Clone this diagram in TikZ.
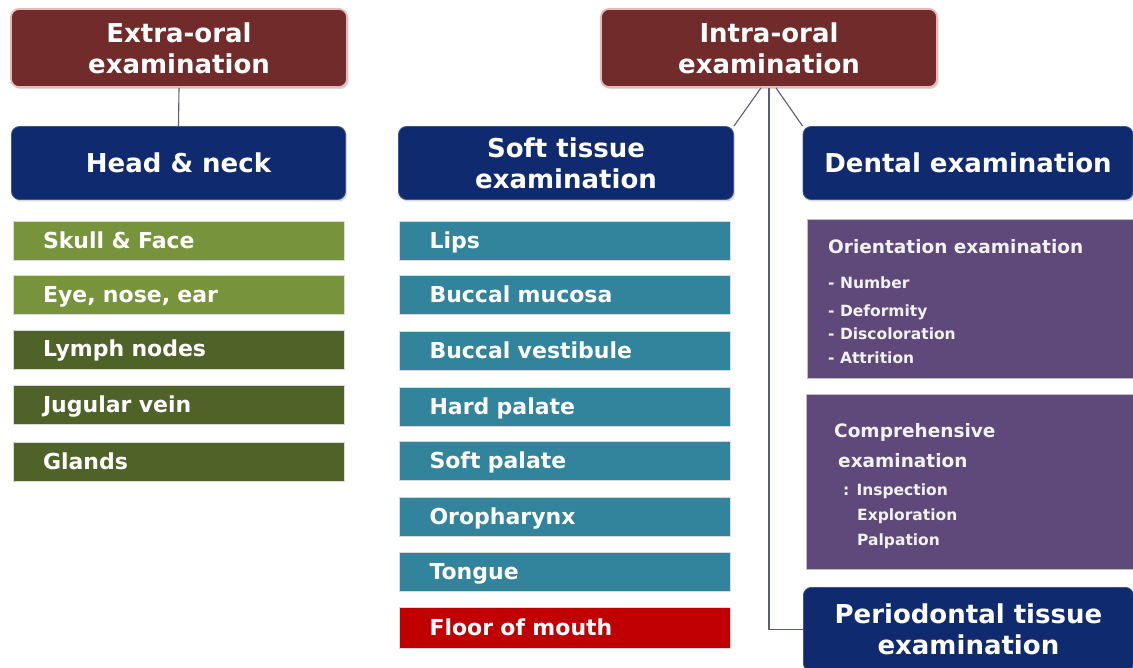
\documentclass[tikz,border=0pt]{standalone}
\usepackage{fontspec}
\setmainfont{DejaVu Sans}
\usetikzlibrary{shadows}
\definecolor{maroon}{RGB}{114,43,43}
\definecolor{pinkedge}{RGB}{230,185,184}
\definecolor{navy}{RGB}{15,42,110}
\definecolor{lgreen}{RGB}{119,147,60}
\definecolor{dgreen}{RGB}{79,98,40}
\definecolor{teal}{RGB}{49,132,155}
\definecolor{redbar}{RGB}{192,0,0}
\definecolor{purp}{RGB}{95,73,122}
\definecolor{conn}{RGB}{90,95,110}
\begin{document}
\begin{tikzpicture}[x=1pt,y=-1pt,
  hdrfont/.style={font=\fontsize{26}{31}\selectfont\bfseries},
  topbox/.style={hdrfont, rounded corners=8pt, fill=maroon, draw=pinkedge, line width=1.8pt,
     text=white, align=center, minimum width=336pt, minimum height=78pt, inner sep=0pt,
     drop shadow={shadow xshift=1.5pt, shadow yshift=-2pt, opacity=0.3}},
  navybox/.style={hdrfont, rounded corners=8pt, fill=navy, draw=navy!80!white, line width=0.8pt,
     text=white, align=center, minimum height=73pt, inner sep=0pt,
     drop shadow={shadow xshift=1.5pt, shadow yshift=-2pt, opacity=0.3}},
  bar/.style={font=\fontsize{22}{26}\selectfont\bfseries, text=white, draw=white!85!black, line width=0.5pt,
     text width=271pt, inner xsep=30pt, inner ysep=0pt, minimum height=39pt, align=left,
     text height=18pt, text depth=3pt},
  pbox/.style={fill=purp, draw=white!75!black, line width=0.6pt, anchor=north west, inner sep=0pt},
  ptitle/.style={font=\fontsize{18.5}{22}\selectfont\bfseries, text=white!95!black, anchor=base west, inner sep=0pt},
  pitem/.style={font=\fontsize{15.5}{18}\selectfont\bfseries, text=white!95!black, anchor=base west, inner sep=0pt},
  link/.style={draw=conn, line width=1.1pt}
]
\useasboundingbox[fill=white] (0,0) rectangle (1133,668);

% headers
\node[topbox] (extra) at (179,48) {Extra-oral\\examination};
\node[topbox] (intra) at (769,48) {Intra-oral\\examination};
\node[navybox, minimum width=334pt] (head) at (178.5,163) {Head \& neck};
\node[navybox, minimum width=335pt] (soft) at (566,163) {Soft tissue\\examination};
\node[navybox, minimum width=330pt] (dental) at (968,163) {Dental examination};
\node[navybox, minimum width=330pt, minimum height=84pt, anchor=north west] (perio) at (803,587) {Periodontal tissue\\examination};

% connectors
\draw[link] (extra.south) -- (head.north);
\draw[link] ([xshift=-8pt]intra.south) -- (soft.north east);
\draw[link] ([xshift=7pt]intra.south) -- (dental.north west);
\draw[link] (intra.south) |- (perio.west);

% extra-oral items
\node[bar, fill=lgreen] (skull) at (178.5,241) {Skull \& Face};
\node[bar, fill=lgreen] (eye) at (178.5,295) {Eye, nose, ear};
\node[bar, fill=dgreen] (lymph) at (178.5,349.5) {Lymph nodes};
\node[bar, fill=dgreen] (jugular) at (178.5,405) {Jugular vein};
\node[bar, fill=dgreen] (glands) at (178.5,461.5) {Glands};

% soft tissue items
\node[bar, fill=teal] (lips) at (565,241) {Lips};
\node[bar, fill=teal] (mucosa) at (565,295) {Buccal mucosa};
\node[bar, fill=teal] (vestibule) at (565,351) {Buccal vestibule};
\node[bar, fill=teal] (hard) at (565,407) {Hard palate};
\node[bar, fill=teal] (softp) at (565,461) {Soft palate};
\node[bar, fill=teal] (oro) at (565,517) {Oropharynx};
\node[bar, fill=teal] (tongue) at (565,572) {Tongue};
\node[bar, fill=redbar, minimum height=41pt] (floor) at (565,627.5) {Floor of mouth};

% dental sub-boxes
\node[pbox, minimum width=330pt, minimum height=159pt] (orient) at (807,219) {};
\node[ptitle] (o0) at (828,254) {Orientation examination};
\node[pitem] (o1) at (828,289) {- Number};
\node[pitem] (o2) at (828,317) {- Deformity};
\node[pitem] (o3) at (828,340) {- Discoloration};
\node[pitem] (o4) at (828,364) {- Attrition};

\node[pbox, minimum width=330pt, minimum height=175pt] (compr) at (806,394) {};
\node[ptitle] (c0) at (834,437) {Comprehensive};
\node[ptitle] (c1) at (838,467) {examination};
\node[pitem] (c2) at (843,495) {: Inspection};
\node[pitem] (c3) at (857,520) {Exploration};
\node[pitem] (c4) at (857,545) {Palpation};
\end{tikzpicture}
\end{document}
